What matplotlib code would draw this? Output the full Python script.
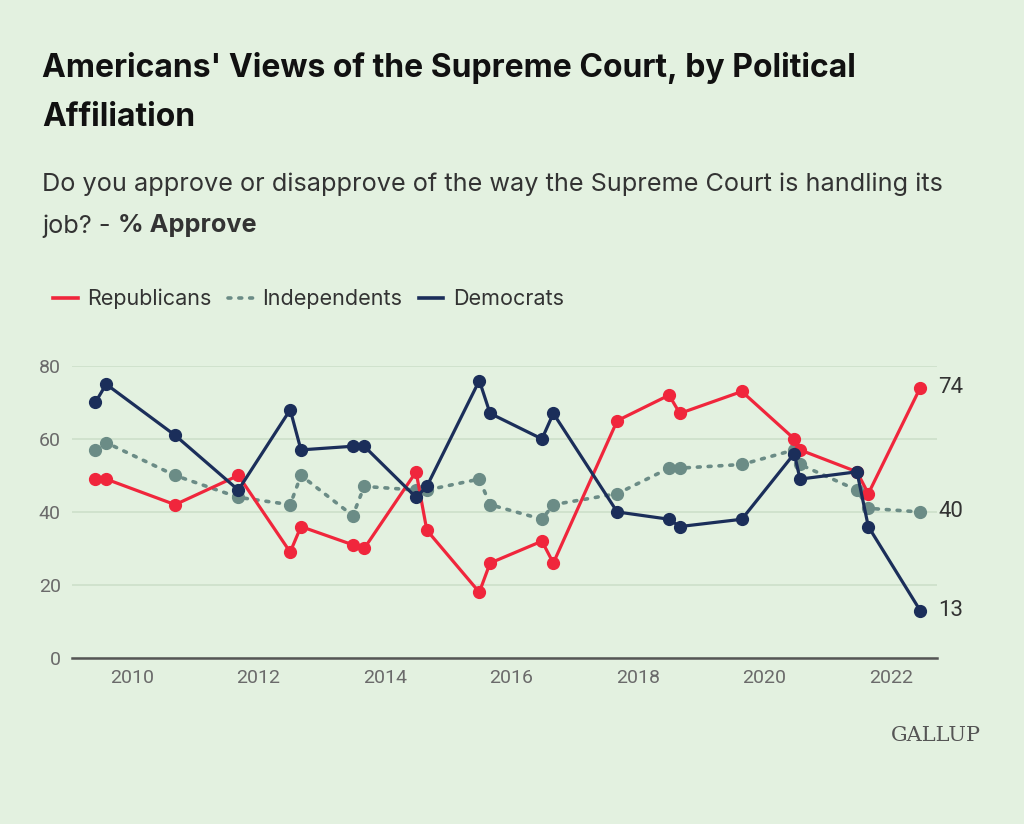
import numpy as np
import matplotlib.pyplot as plt

# survey dates as decimal years
dates = [2009.42, 2009.59, 2010.68, 2011.68, 2012.50, 2012.67, 2013.49, 2013.67,
         2014.49, 2014.66, 2015.49, 2015.66, 2016.48, 2016.66, 2017.67, 2018.49,
         2018.66, 2019.64, 2020.47, 2020.56, 2021.46, 2021.64, 2022.46]

republicans = [49, 49, 42, 50, 29, 36, 31, 30, 51, 35, 18, 26, 32, 26, 65, 72,
               67, 73, 60, 57, 51, 45, 74]
independents = [57, 59, 50, 44, 42, 50, 39, 47, 46, 46, 49, 42, 38, 42, 45, 52,
                52, 53, 57, 53, 46, 41, 40]
democrats = [70, 75, 61, 46, 68, 57, 58, 58, 44, 47, 76, 67, 60, 67, 40, 38,
             36, 38, 56, 49, 51, 36, 13]

year_ticks = [2010, 2012, 2014, 2016, 2018, 2020, 2022]
y_ticks = [0, 20, 40, 60, 80]

BG = '#e3f1e0'
RED = '#f0263c'
NAVY = '#1b2e5a'
TEAL = '#6b8c86'

plt.rcParams['font.family'] = ['Inter', 'DejaVu Sans']

fig = plt.figure(figsize=(10.24, 8.24), dpi=100, facecolor=BG)
ax = fig.add_axes([0.0703, 0.2015, 0.845, 0.3544])
ax.set_facecolor(BG)

ax.plot(dates, republicans, color=RED, lw=2.3, marker='o', ms=8.5,
        label='Republicans', clip_on=False, zorder=3)
ax.plot(dates, independents, color=TEAL, lw=2.6, ls=(0, (0.8, 2.2)),
        dash_capstyle='round', marker='o', ms=8.5, label='Independents',
        clip_on=False, zorder=2)
ax.plot(dates, democrats, color=NAVY, lw=2.3, marker='o', ms=8.5,
        label='Democrats', clip_on=False, zorder=4)

ax.set_xlim(2009.05, 2022.73)
ax.set_ylim(0, 80)
ax.set_xticks(year_ticks)
ax.set_yticks(y_ticks)
ax.tick_params(length=0, labelsize=14, labelcolor='#6a6a6a', pad=8)
for lab in ax.get_xticklabels() + ax.get_yticklabels():
    lab.set_family('Roboto')
ax.grid(axis='y', color='#cddfca', lw=1.2)
ax.set_axisbelow(True)
for s in ['top', 'right', 'left']:
    ax.spines[s].set_visible(False)
ax.spines['bottom'].set_color('#555555')
ax.spines['bottom'].set_linewidth(1.8)

# end labels
for series in (republicans, independents, democrats):
    ax.annotate(f"{series[-1]}", xy=(dates[-1], series[-1]), xytext=(13, 0),
                textcoords='offset points', va='center', ha='left',
                fontsize=16, color='#333333', family='Roboto', annotation_clip=False)

# legend
leg = fig.legend(loc='center left', bbox_to_anchor=(0.033, 0.637), ncol=3,
                 frameon=False, fontsize=15.5, handlelength=1.15, columnspacing=0.75,
                 handletextpad=0.45)
for t in leg.get_texts():
    t.set_color('#333333')
for h in leg.get_lines():
    h.set_marker('')
    h.set_linewidth(2.6)

fig.text(0.041, 0.918, "Americans' Views of the Supreme Court, by Political",
         fontsize=23, fontweight='bold', color='#111111', va='center')
fig.text(0.041, 0.858, "Affiliation", fontsize=23, fontweight='bold',
         color='#111111', va='center')
fig.text(0.041, 0.777, "Do you approve or disapprove of the way the Supreme Court is handling its",
         fontsize=18.2, color='#333333', va='center')
part1 = fig.text(0.041, 0.726, "job? -", fontsize=18.2, color='#333333', va='center')
fig.canvas.draw()
bb = part1.get_window_extent(fig.canvas.get_renderer())
fig.text(bb.x1 / fig.bbox.width + 0.007, 0.726, "% Approve", fontsize=18.2,
         fontweight='bold', color='#333333', va='center')

fig.text(0.958, 0.107, "GALLUP", family='DejaVu Serif', fontsize=15,
         color='#555555', ha='right', va='center')

fig.savefig('out.png', dpi=100, facecolor=BG)
